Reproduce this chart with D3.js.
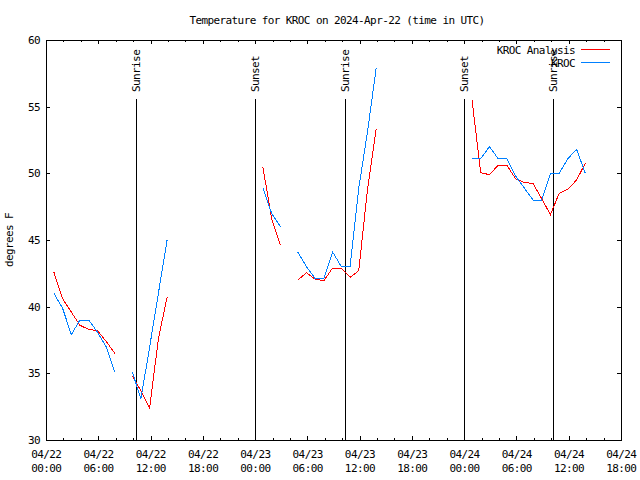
<!DOCTYPE html>
<html><head><meta charset="utf-8">
<script src="https://cdn.jsdelivr.net/npm/d3@7"></script>
<style>
body{margin:0;background:#fff}
svg{display:block}
text{font-family:"DejaVu Sans Mono",monospace;font-size:11px;letter-spacing:-0.6px;fill:#000}
</style>
</head><body>
<svg id="chart" width="640" height="480"></svg>
<script>
// ---- data ----
const titleText = "Temperature for KROC on 2024-Apr-22 (time in UTC)";
const yLabel = "degrees F";
const startTime = "2024-04-22T00:00Z";
const endTime = "2024-04-24T18:00Z";
// hours since start (observation times, HH:54)
const hoursSinceStart = [
  0.9, 1.9, 2.9, 3.9, 4.9, 5.9, 6.9, 7.9, 8.9, 9.9,
  10.9, 11.9, 12.9, 13.9, 14.9, 15.9, 16.9, 17.9, 18.9, 19.9,
  20.9, 21.9, 22.9, 23.9, 24.9, 25.9, 26.9, 27.9, 28.9, 29.9,
  30.9, 31.9, 32.9, 33.9, 34.9, 35.9, 36.9, 37.9, 38.9, 39.9,
  40.9, 41.9, 42.9, 43.9, 44.9, 45.9, 46.9, 47.9, 48.9, 49.9,
  50.9, 51.9, 52.9, 53.9, 54.9, 55.9, 56.9, 57.9, 58.9, 59.9,
  60.9, 61.9
];
const analysisTemps = [
  42.6, 40.6, 39.6, 38.6, 38.3, 38.2, 37.4, 36.5, null, 34.8,
  33.7, 32.4, 37.6, 40.7, null, null, null, null, null, null,
  null, null, null, null, 50.45, 46.6, 44.6, null, 42.0, 42.55,
  42.05, 41.95, 42.9, 42.9, 42.2, 42.7, 48.8, 53.3, null, null,
  null, null, null, null, null, null, null, null, 55.5, 50.05,
  49.9, 50.6, 50.6, 49.6, 49.3, 49.25, 48.1, 46.9, 48.5, 48.8,
  49.5, 50.75
];
const observedTemps = [
  41.0, 39.9, 37.9, 39.0, 39.0, 38.1, 37.0, 35.1, null, 35.1,
  33.1, 37.0, 41.0, 45.0, null, null, null, null, null, null,
  null, null, null, null, 48.9, 47.0, 46.0, null, 44.1, 43.0,
  42.1, 42.1, 44.1, 43.0, 43.0, 48.9, 53.1, 57.9, null, null,
  null, null, null, null, null, null, null, null, 51.1, 51.1,
  52.0, 51.1, 51.1, 49.8, 48.9, 48.0, 48.0, 50.0, 50.0, 51.1,
  51.8, 50.0
];
const seriesNames = ["KROC Analysis", "KROC"];
const yTicks = [30, 35, 40, 45, 50, 55, 60];
const sunNames = ["Sunrise", "Sunset", "Sunrise", "Sunset", "Sunrise"];
const sunTimes = ["2024-04-22T10:18Z", "2024-04-22T23:58Z", "2024-04-23T10:17Z", "2024-04-23T23:59Z", "2024-04-24T10:15Z"];

// ---- styles / layout ----
const colors = ["#ff0000", "#0080ff"];
const L = 46, R = 621, T = 40, B = 440;

const svg = d3.select("#chart");
const t0 = new Date(startTime);
const toDate = h => new Date(t0.getTime() + h * 3600e3);

const x = d3.scaleUtc().domain([t0, new Date(endTime)]).range([L, R]);
const y = d3.scaleLinear().domain([30, 60]).range([B, T]);

// frame
svg.append("rect").attr("x", L + 0.5).attr("y", T + 0.5)
  .attr("width", R - L).attr("height", B - T)
  .attr("fill", "none").attr("stroke", "#000").attr("shape-rendering", "crispEdges");

// x ticks
const major = x.ticks(d3.utcHour.every(6));
const minor = x.ticks(d3.utcHour.every(2)).filter(d => d.getUTCHours() % 6 !== 0);
const tickG = svg.append("g").attr("stroke", "#000").attr("shape-rendering", "crispEdges");
major.forEach(d => {
  const px = Math.round(x(d)) + 0.5;
  tickG.append("line").attr("x1", px).attr("x2", px).attr("y1", B).attr("y2", B - 4);
  tickG.append("line").attr("x1", px).attr("x2", px).attr("y1", T).attr("y2", T + 4);
});
minor.forEach(d => {
  const px = Math.round(x(d)) + 0.5;
  tickG.append("line").attr("x1", px).attr("x2", px).attr("y1", B).attr("y2", B - 2);
  tickG.append("line").attr("x1", px).attr("x2", px).attr("y1", T).attr("y2", T + 2);
});
const fmtDay = d3.utcFormat("%m/%d"), fmtHr = d3.utcFormat("%H:%M");
major.forEach(d => {
  const tx = svg.append("text").attr("text-anchor", "middle");
  tx.append("tspan").attr("x", x(d) + 0.3).attr("y", 458).text(fmtDay(d));
  tx.append("tspan").attr("x", x(d) + 0.3).attr("y", 472).text(fmtHr(d));
});

// y ticks
yTicks.forEach(v => {
  const py = Math.round(y(v)) + 0.5;
  tickG.append("line").attr("x1", L).attr("x2", L + 4).attr("y1", py).attr("y2", py);
  tickG.append("line").attr("x1", R).attr("x2", R - 4).attr("y1", py).attr("y2", py);
  svg.append("text").attr("text-anchor", "end").attr("x", 40).attr("y", y(v) + 4).text(v);
});

// sun event lines
sunTimes.forEach((s, i) => {
  const px = Math.round(x(new Date(s))) + 0.5;
  svg.append("line").attr("x1", px).attr("x2", px).attr("y1", 99).attr("y2", B)
    .attr("stroke", "#000").attr("shape-rendering", "crispEdges");
  svg.append("text").attr("text-anchor", "start")
    .attr("transform", `translate(${px + 3.5},92) rotate(-90)`).text(sunNames[i]);
});

// series
const line = d3.line()
  .defined(d => d.v != null)
  .x(d => x(toDate(d.h)))
  .y(d => y(d.v));
[analysisTemps, observedTemps].forEach((vals, i) => {
  const data = hoursSinceStart.map((h, k) => ({h, v: vals[k]}));
  svg.append("path").datum(data).attr("d", line)
    .attr("fill", "none").attr("stroke", colors[i]).attr("stroke-width", 1)
    .attr("shape-rendering", "crispEdges");
});

// legend
seriesNames.forEach((n, i) => {
  const ly = 49.5 + i * 13;
  svg.append("text").attr("text-anchor", "end").attr("x", 575).attr("y", ly + 4).text(n);
  svg.append("line").attr("x1", 581).attr("x2", 610).attr("y1", ly).attr("y2", ly)
    .attr("stroke", colors[i]).attr("shape-rendering", "crispEdges");
});

// title & y label
svg.append("text").attr("text-anchor", "middle").attr("x", 337).attr("y", 24).text(titleText);
svg.append("text").attr("text-anchor", "middle")
  .attr("transform", "translate(13,240) rotate(-90)").text(yLabel);
</script>
</body></html>
